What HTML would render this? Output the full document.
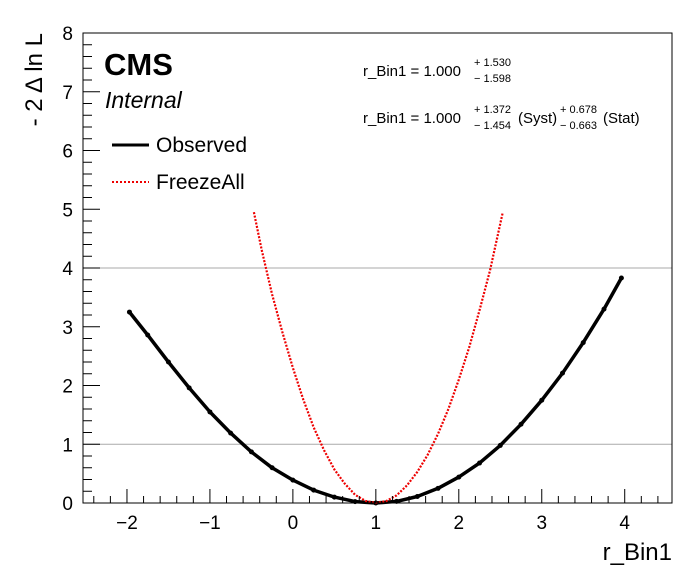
<!DOCTYPE html>
<html><head><meta charset="utf-8"><style>
body{margin:0;background:#fff;}
svg text{font-family:"Liberation Sans",sans-serif;}
</style></head><body>
<svg id="chart" width="696" height="572" xmlns="http://www.w3.org/2000/svg">
<rect width="696" height="572" fill="#fff"/>
<g id="grid"></g>
<g id="curves"></g>
<rect x="83" y="33" width="589" height="470" fill="none" stroke="#000" stroke-width="1"/>
<g id="axes"></g>
<text x="104" y="75" font-size="31" font-weight="bold">CMS</text>
<text x="105" y="108" font-size="23" font-style="italic">Internal</text>
<g>
<line x1="112" y1="145" x2="149" y2="145" stroke="#000" stroke-width="3"/>
<text x="156" y="152" font-size="21">Observed</text>
<line x1="112" y1="182" x2="149" y2="182" stroke="#e00" stroke-width="2" stroke-dasharray="2,2"/>
<text x="156" y="189" font-size="21">FreezeAll</text>
</g>
<g font-size="15">
<text x="363" y="76">r_Bin1 = 1.000</text>
<text x="474" y="66" font-size="11">+ 1.530</text>
<text x="474" y="82" font-size="11">− 1.598</text>
</g>
<g font-size="15">
<text x="363" y="123">r_Bin1 = 1.000</text>
<text x="474" y="113" font-size="11">+ 1.372</text>
<text x="474" y="129" font-size="11">− 1.454</text>
<text x="518" y="123">(Syst)</text>
<text x="560" y="113" font-size="11">+ 0.678</text>
<text x="560" y="129" font-size="11">− 0.663</text>
<text x="603" y="123">(Stat)</text>
</g>
<text transform="translate(42,33) rotate(-90)" text-anchor="end" font-size="24">- 2 Δ ln L</text>
<text x="672" y="560" text-anchor="end" font-size="24">r_Bin1</text>
</svg>
<script>
const xTicks=[-2,-1,0,1,2,3,4];
const yTicks=[0,1,2,3,4,5,6,7,8];
const gridLevels=[1,4];
const obsX=[-1.97,-1.75,-1.5,-1.25,-1,-0.75,-0.5,-0.25,0,0.25,0.5,0.75,1,1.25,1.5,1.75,2,2.25,2.5,2.75,3,3.25,3.5,3.75,3.96];
const obsY=[3.25,2.86,2.40,1.96,1.55,1.19,0.87,0.60,0.39,0.22,0.10,0.024,0,0.027,0.11,0.25,0.44,0.68,0.98,1.34,1.75,2.21,2.73,3.30,3.83];
const frzX=[-0.47,-0.375,-0.25,-0.125,0,0.125,0.25,0.375,0.5,0.625,0.75,0.875,1,1.125,1.25,1.375,1.5,1.625,1.75,1.875,2,2.125,2.25,2.375,2.53];
const frzY=[4.95,4.3,3.55,2.9,2.3,1.76,1.29,0.9,0.57,0.33,0.14,0.035,0,0.033,0.13,0.3,0.53,0.82,1.18,1.6,2.1,2.65,3.28,3.95,4.95];
const X0=-2.53,X1=4.57,Y0=0,Y1=8,L=83,R=672,T=33,B=503;
const sx=v=>L+(v-X0)/(X1-X0)*(R-L);
const sy=v=>B-(v-Y0)/(Y1-Y0)*(B-T);
const NS="http://www.w3.org/2000/svg";
function mk(tag,parent,attrs){const e=document.createElementNS(NS,tag);for(const k in attrs)e.setAttribute(k,attrs[k]);parent.appendChild(e);return e;}
const grid=document.getElementById('grid'),axes=document.getElementById('axes'),curves=document.getElementById('curves');
gridLevels.forEach(g=>{const l=mk('line',grid,{x1:L,x2:R,y1:sy(g),y2:sy(g),stroke:'#aaa','stroke-width':1});

});
for(let v=-2.4;v<=4.55;v+=0.2){const r=Math.round(v*10)/10;const major=Math.abs(r-Math.round(r))<1e-6;
const t=mk('line',axes,{x1:sx(r),x2:sx(r),y1:B,y2:B-(major?14:7),stroke:'#000'});

}
for(let v=0.2;v<8;v+=0.2){const r=Math.round(v*10)/10;const major=Math.abs(r-Math.round(r))<1e-6;
const t=mk('line',axes,{x1:L,x2:L+(major?17:9),y1:sy(r),y2:sy(r),stroke:'#000'});

}
xTicks.forEach(v=>{const t=mk('text',axes,{x:sx(v),y:B+26,'text-anchor':'middle','font-size':19});t.textContent=(v<0?'−':'')+Math.abs(v);

});
yTicks.forEach(v=>{const t=mk('text',axes,{x:L-10,y:sy(v)+7,'text-anchor':'end','font-size':19});t.textContent=v;

});
function path(xs,ys){return xs.map((x,i)=>(i?'L':'M')+sx(x).toFixed(1)+','+sy(ys[i]).toFixed(1)).join('');}
const po=mk('path',curves,{d:path(obsX,obsY),fill:'none',stroke:'#000','stroke-width':3.5,'stroke-linejoin':'round'});


obsX.forEach((x,i)=>{const c=mk('circle',curves,{cx:sx(x),cy:sy(obsY[i]),r:2.5,fill:'#000'});

});
const pf=mk('path',curves,{d:path(frzX,frzY),fill:'none',stroke:'#e00','stroke-width':2.2,'stroke-dasharray':'2,1.5'});


</script>
</body></html>
